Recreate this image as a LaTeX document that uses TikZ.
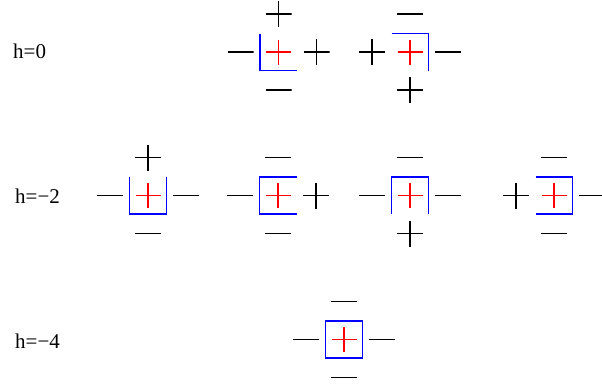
\documentclass[tikz,border=0pt]{standalone}
\usepackage{fontspec}
\setmainfont{Liberation Serif}
\usetikzlibrary{positioning}
\tikzset{
    every node/.style={font=\fontsize{21}{25}\selectfont},
    sgnline/.style={line width=1.2pt,black},
    sgn/.style={rectangle,minimum size=26pt,inner sep=0pt,outer sep=0pt},
    up/.style={sgn,path picture={
        \draw[sgnline] (path picture bounding box.west) -- (path picture bounding box.east);
        \draw[sgnline] (path picture bounding box.north) -- (path picture bounding box.south);}},
    dn/.style={sgn,path picture={
        \draw[sgnline] (path picture bounding box.west) -- (path picture bounding box.east);}},
    spin/.style={rectangle,minimum size=37pt,inner sep=0pt,outer sep=0pt,path picture={
        \draw[sgnline,red,shorten <=6pt,shorten >=6pt]
            (path picture bounding box.west) -- (path picture bounding box.east);
        \draw[sgnline,red,shorten <=6pt,shorten >=6pt]
            (path picture bounding box.north) -- (path picture bounding box.south);}},
    wall/.style={draw=blue,line width=1.2pt},
    lbl/.style={anchor=base west,inner sep=0pt}
}
\begin{document}
\begin{tikzpicture}[x=1pt,y=1pt,node distance=6.5pt]
    \useasboundingbox (0,0) rectangle (602,-383);

    % h=0
    \node[lbl] (l0) at (13,-58) {h=0};
    \node[spin] (a) at (278.5,-52) {};
    \node[up,above=of a] (a-n) {};
    \node[dn,left=of a] (a-w) {};
    \node[up,right=of a] (a-e) {};
    \node[dn,below=of a] (a-s) {};
    \draw[wall] (a.north west) |- (a.south east);

    \node[spin] (b) at (410,-52) {};
    \node[dn,above=of b] (b-n) {};
    \node[up,left=of b] (b-w) {};
    \node[dn,right=of b] (b-e) {};
    \node[up,below=of b] (b-s) {};
    \draw[wall] (b.north west) -| (b.south east);

    % h=-2
    \node[lbl] (l2) at (15,-203) {h=−2};
    \node[spin] (c) at (148,-195.5) {};
    \node[up,above=of c] (c-n) {};
    \node[dn,left=of c] (c-w) {};
    \node[dn,right=of c] (c-e) {};
    \node[dn,below=of c] (c-s) {};
    \draw[wall] (c.north west) -- (c.south west) -- (c.south east) -- (c.north east);

    \node[spin] (d) at (278,-195.5) {};
    \node[dn,above=of d] (d-n) {};
    \node[dn,left=of d] (d-w) {};
    \node[up,right=of d] (d-e) {};
    \node[dn,below=of d] (d-s) {};
    \draw[wall] (d.north east) -- (d.north west) -- (d.south west) -- (d.south east);

    \node[spin] (e) at (410,-195.5) {};
    \node[dn,above=of e] (e-n) {};
    \node[dn,left=of e] (e-w) {};
    \node[dn,right=of e] (e-e) {};
    \node[up,below=of e] (e-s) {};
    \draw[wall] (e.south west) -- (e.north west) -- (e.north east) -- (e.south east);

    \node[spin] (f) at (554,-195.5) {};
    \node[dn,above=of f] (f-n) {};
    \node[up,left=of f] (f-w) {};
    \node[dn,right=of f] (f-e) {};
    \node[dn,below=of f] (f-s) {};
    \draw[wall] (f.north west) -- (f.north east) -- (f.south east) -- (f.south west);

    % h=-4
    \node[lbl] (l4) at (15,-348) {h=−4};
    \node[spin] (g) at (344,-339.5) {};
    \node[dn,above=of g] (g-n) {};
    \node[dn,left=of g] (g-w) {};
    \node[dn,right=of g] (g-e) {};
    \node[dn,below=of g] (g-s) {};
    \draw[wall] (g.north west) rectangle (g.south east);
\end{tikzpicture}
\end{document}
